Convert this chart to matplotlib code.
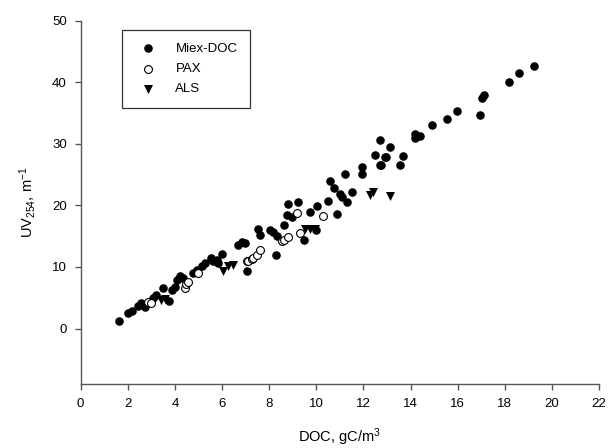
import matplotlib
matplotlib.use("Agg")
import matplotlib.pyplot as plt

plt.rcParams["font.family"] = ["Liberation Sans", "DejaVu Sans"]
plt.rcParams["mathtext.default"] = "regular"

# Miex-DOC (filled circles)
miex_doc = [1.63, 2.02, 2.16, 2.45, 2.56, 2.75, 3.08, 3.18, 3.51, 3.76, 3.86, 4.00,
            4.07, 4.21, 4.36, 4.78, 4.92, 5.13, 5.28, 5.53, 5.63, 5.77, 5.84, 5.98,
            6.69, 6.83, 6.97, 7.04, 7.51, 7.61, 8.04, 8.18, 8.28, 8.32, 8.64, 8.74,
            8.81, 8.96, 9.21, 9.49, 9.73, 10.02, 10.00, 10.48, 10.58, 10.77, 10.90,
            11.00, 11.08, 11.22, 11.29, 11.50, 11.93, 11.93, 12.50, 12.70, 12.73,
            12.90, 12.95, 12.70, 13.13, 13.55, 13.67, 14.18, 14.19, 14.40, 14.90,
            15.55, 15.97, 16.96, 17.05, 17.13, 18.19, 18.60, 19.25]
miex_uv = [1.3, 2.6, 2.9, 3.6, 4.1, 3.5, 4.9, 5.5, 6.6, 4.5, 6.3, 6.8,
           7.9, 8.6, 8.2, 9.0, 9.5, 10.2, 10.6, 11.4, 10.9, 11.1, 10.6, 12.1,
           13.6, 14.1, 13.9, 9.3, 16.2, 15.2, 16.0, 15.7, 12.0, 15.0, 16.8, 18.5,
           20.2, 18.2, 20.6, 14.4, 19.0, 19.9, 16.0, 20.7, 24.0, 22.9, 18.6,
           21.8, 21.4, 25.1, 20.5, 22.2, 26.3, 25.1, 28.2, 30.6, 26.5,
           27.9, 27.8, 26.6, 29.5, 26.5, 28.1, 30.9, 31.6, 31.3, 33.1,
           34.0, 35.3, 34.7, 37.5, 38.0, 40.0, 41.5, 42.7]

# PAX (open circles)
pax_doc = [2.84, 2.98, 4.43, 4.47, 4.54, 4.99, 7.04, 7.12, 7.26, 7.33, 7.47, 7.61,
           8.53, 8.64, 8.81, 9.17, 9.31, 10.27]
pax_uv = [4.3, 4.2, 6.6, 7.2, 7.6, 9.1, 10.9, 11.0, 11.3, 11.4, 12.0, 12.7,
          14.3, 14.4, 14.9, 18.7, 15.6, 18.3]

# ALS (down triangles)
als_doc = [3.40, 3.60, 6.05, 6.27, 6.48, 9.52, 9.73, 9.94, 12.28, 12.42, 13.13]
als_uv = [4.6, 4.8, 9.3, 10.1, 10.3, 16.2, 16.1, 16.1, 21.7, 22.1, 21.5]

fig = plt.figure(figsize=(6.08, 4.48), dpi=100)
ax = fig.add_axes([0.1327, 0.1429, 0.8525, 0.8109])

ax.scatter(miex_doc, miex_uv, s=38, c="black", marker="o", linewidths=0,
           label="Miex-DOC", zorder=3)
ax.scatter(pax_doc, pax_uv, s=32, facecolors="white", edgecolors="black",
           marker="o", linewidths=0.8, label="PAX", zorder=4)
ax.scatter(als_doc, als_uv, s=42, c="black", marker="v", linewidths=0,
           label="ALS", zorder=5)

ax.set_xlim(0, 22)
ax.set_ylim(-9, 50)
ax.set_xticks(range(0, 23, 2))
ax.set_yticks(range(0, 51, 10))

for side in ("top", "right"):
    ax.spines[side].set_visible(False)
for side in ("left", "bottom"):
    ax.spines[side].set_color("#555555")
    ax.spines[side].set_linewidth(1.0)
ax.tick_params(direction="out", length=4, width=1, color="#555555",
               labelsize=9.5, pad=6)

ax.set_xlabel("DOC, gC/m$^3$", fontsize=10.5, labelpad=12)
ax.set_ylabel("UV$_{254}$, m$^{-1}$", fontsize=10.5, labelpad=10)

leg = ax.legend(loc="upper left", bbox_to_anchor=(0.0797, 0.974),
                borderaxespad=0, fancybox=False, fontsize=9.5,
                handletextpad=1.1, borderpad=0.95, labelspacing=0.6,
                handlelength=2.0)
leg.get_frame().set_edgecolor("black")
leg.get_frame().set_linewidth(0.9)

fig.savefig("out.png", dpi=100)
